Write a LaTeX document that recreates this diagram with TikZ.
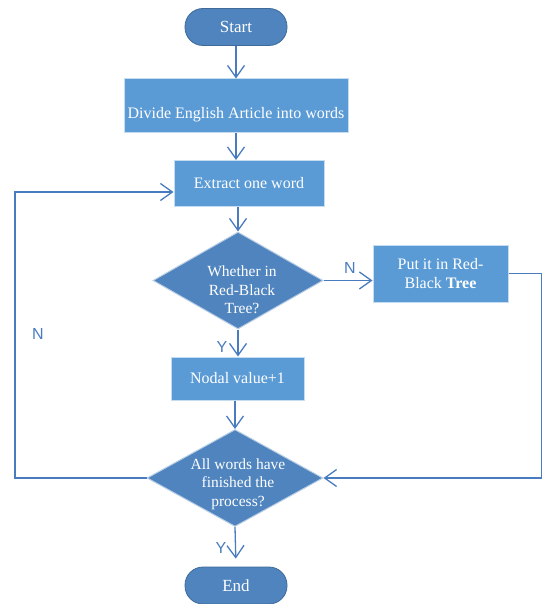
\documentclass[tikz,border=0pt]{standalone}
\usepackage{fontspec}
\setmainfont{Liberation Serif}
\newfontfamily\yesnofont{Liberation Sans}
\usetikzlibrary{shapes,arrows.meta,positioning,calc}
\definecolor{termblue}{RGB}{79,132,190}
\definecolor{boxblue}{RGB}{91,155,213}
\definecolor{lineblue}{RGB}{72,124,190}

\begin{document}
\begin{tikzpicture}[x=1pt,y=-1pt,
    terminal/.style={rectangle,rounded corners=18pt,draw=termblue!80!black,line width=0.8pt,fill=termblue,text=white,minimum width=102pt,minimum height=37pt,font=\fontsize{17}{20}\selectfont},
    process/.style={rectangle,draw=boxblue!35,line width=1pt,fill=boxblue,text=white,font=\fontsize{16}{19}\selectfont,align=center},
    decision/.style={diamond,draw=termblue!40,line width=1pt,fill=termblue,inner sep=0pt,minimum height=97pt},
    dtext/.style={text=white,font=\fontsize{15.5}{18.5}\selectfont,align=center},
    yn/.style={text=lineblue,font=\yesnofont\fontsize{16}{18}\selectfont},
    flow/.style={draw=lineblue,line width=1.3pt,-{Straight Barb[length=12pt,width=17pt]}}]

    \useasboundingbox (0,0) rectangle (541,604);

    \node[terminal] (start) at (236,27) {Start};
    \node[process,minimum width=224pt,minimum height=54pt,text height=30pt,text depth=4pt] (divide) at (236,106) {Divide English Article into words};
    \node[process,minimum width=150pt,minimum height=46pt] (extract) at (249,183.5) {Extract one word};
    \node[decision,minimum width=170pt] (check) at (238,280.5) {};
    \node[dtext] (checktext) at (242,290) {Whether in\\Red-Black\\Tree?};
    \node[process,minimum width=135pt,minimum height=57pt] (insert) at (440.5,273.5) {Put it in Red-\\Black \textbf{Tree}};
    \node[process,minimum width=133pt,minimum height=43pt] (nodal) at (237.5,378.5) {Nodal value+1};
    \node[decision,minimum width=176pt] (finish) at (235,478) {};
    \node[dtext] (finishtext) at (238,484) {All words have\\finished the\\process?};
    \node[terminal] (end) at (236,585.5) {End};

    \foreach \name/\pos/\txt in {ncheck/{350,268}/N, ycheck/{222,347}/Y, nfinish/{38,334}/N, yfinish/{221,548}/Y}
        \node[yn] (\name) at (\pos) {\txt};

    \coordinate (loopleft) at (15,192);
    \coordinate (loopright) at (541.6,275);

    \draw[flow] (start) -- (divide);
    \draw[flow] (divide.south) -- (divide.south |- extract.north);
    \draw[flow] (check.north |- extract.south) -- (check.north);
    \draw[flow] (check.east) -- (insert.west |- check.east);
    \draw[flow] (check.south) -- (check.south |- nodal.north);
    \draw[flow] (finish.north |- nodal.south) -- (finish.north);
    \draw[flow,shorten >=8pt] (finish.south) -- (end.north);
    % loops back
    \draw[flow] (finish.west) -| (loopleft) -- (extract.west |- loopleft);
    \draw[flow] (insert.east) -- (insert.east -| loopright) |- (finish.east);
\end{tikzpicture}
\end{document}
